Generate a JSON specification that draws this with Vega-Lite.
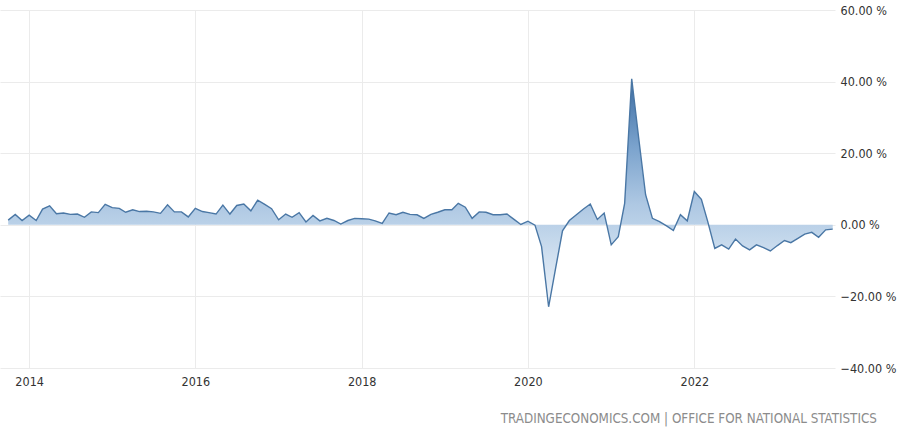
{
  "$schema": "https://vega.github.io/schema/vega-lite/v6.json",
  "width": 835,
  "height": 358,
  "autosize": {"type": "none"},
  "padding": {"left": 0, "top": 10, "right": 65, "bottom": 60},
  "background": "white",
  "config": {"view": {"stroke": null}, "font": "DejaVu Sans Condensed"},
  "title": {
    "text": "TRADINGECONOMICS.COM | OFFICE FOR NATIONAL STATISTICS",
    "orient": "bottom",
    "anchor": "end",
    "fontSize": 13.3,
    "fontWeight": "normal",
    "color": "#8c8c8c",
    "offset": 24,
    "dx": -19,
    "font": "DejaVu Sans Condensed"
  },
  "data": {
    "values": [
      {"date": "2013-10-01", "value": 1.3},
      {"date": "2013-11-01", "value": 2.9},
      {"date": "2013-12-01", "value": 1.2},
      {"date": "2014-01-01", "value": 2.7},
      {"date": "2014-02-01", "value": 1.2},
      {"date": "2014-03-01", "value": 4.4},
      {"date": "2014-04-01", "value": 5.3},
      {"date": "2014-05-01", "value": 3.1},
      {"date": "2014-06-01", "value": 3.3},
      {"date": "2014-07-01", "value": 2.9},
      {"date": "2014-08-01", "value": 3.0},
      {"date": "2014-09-01", "value": 2.1},
      {"date": "2014-10-01", "value": 3.6},
      {"date": "2014-11-01", "value": 3.4},
      {"date": "2014-12-01", "value": 5.7},
      {"date": "2015-01-01", "value": 4.8},
      {"date": "2015-02-01", "value": 4.6},
      {"date": "2015-03-01", "value": 3.5},
      {"date": "2015-04-01", "value": 4.2},
      {"date": "2015-05-01", "value": 3.7},
      {"date": "2015-06-01", "value": 3.8},
      {"date": "2015-07-01", "value": 3.6},
      {"date": "2015-08-01", "value": 3.2},
      {"date": "2015-09-01", "value": 5.6},
      {"date": "2015-10-01", "value": 3.6},
      {"date": "2015-11-01", "value": 3.6},
      {"date": "2015-12-01", "value": 2.2},
      {"date": "2016-01-01", "value": 4.6},
      {"date": "2016-02-01", "value": 3.7},
      {"date": "2016-03-01", "value": 3.4},
      {"date": "2016-04-01", "value": 3.0},
      {"date": "2016-05-01", "value": 5.5},
      {"date": "2016-06-01", "value": 3.0},
      {"date": "2016-07-01", "value": 5.4},
      {"date": "2016-08-01", "value": 5.8},
      {"date": "2016-09-01", "value": 3.9},
      {"date": "2016-10-01", "value": 6.9},
      {"date": "2016-11-01", "value": 5.7},
      {"date": "2016-12-01", "value": 4.5},
      {"date": "2017-01-01", "value": 1.4},
      {"date": "2017-02-01", "value": 3.0},
      {"date": "2017-03-01", "value": 2.1},
      {"date": "2017-04-01", "value": 3.4},
      {"date": "2017-05-01", "value": 0.8},
      {"date": "2017-06-01", "value": 2.6},
      {"date": "2017-07-01", "value": 1.1},
      {"date": "2017-08-01", "value": 1.8},
      {"date": "2017-09-01", "value": 1.2},
      {"date": "2017-10-01", "value": 0.2},
      {"date": "2017-11-01", "value": 1.2},
      {"date": "2017-12-01", "value": 1.8},
      {"date": "2018-01-01", "value": 1.7},
      {"date": "2018-02-01", "value": 1.6},
      {"date": "2018-03-01", "value": 1.1},
      {"date": "2018-04-01", "value": 0.4},
      {"date": "2018-05-01", "value": 3.3},
      {"date": "2018-06-01", "value": 2.8},
      {"date": "2018-07-01", "value": 3.5},
      {"date": "2018-08-01", "value": 2.9},
      {"date": "2018-09-01", "value": 2.8},
      {"date": "2018-10-01", "value": 1.8},
      {"date": "2018-11-01", "value": 2.9},
      {"date": "2018-12-01", "value": 3.5},
      {"date": "2019-01-01", "value": 4.2},
      {"date": "2019-02-01", "value": 4.2},
      {"date": "2019-03-01", "value": 6.0},
      {"date": "2019-04-01", "value": 4.9},
      {"date": "2019-05-01", "value": 1.8},
      {"date": "2019-06-01", "value": 3.6},
      {"date": "2019-07-01", "value": 3.5},
      {"date": "2019-08-01", "value": 2.8},
      {"date": "2019-09-01", "value": 2.8},
      {"date": "2019-10-01", "value": 3.0},
      {"date": "2019-11-01", "value": 1.5},
      {"date": "2019-12-01", "value": 0.1},
      {"date": "2020-01-01", "value": 1.0},
      {"date": "2020-02-01", "value": -0.1},
      {"date": "2020-03-01", "value": -6.1},
      {"date": "2020-04-01", "value": -22.9},
      {"date": "2020-05-01", "value": -12.4},
      {"date": "2020-06-01", "value": -1.7},
      {"date": "2020-07-01", "value": 1.2},
      {"date": "2020-08-01", "value": 2.8},
      {"date": "2020-09-01", "value": 4.4},
      {"date": "2020-10-01", "value": 5.8},
      {"date": "2020-11-01", "value": 1.5},
      {"date": "2020-12-01", "value": 3.3},
      {"date": "2021-01-01", "value": -5.6},
      {"date": "2021-02-01", "value": -3.3},
      {"date": "2021-03-01", "value": 6.0},
      {"date": "2021-04-01", "value": 40.8},
      {"date": "2021-05-01", "value": 24.6},
      {"date": "2021-06-01", "value": 8.4},
      {"date": "2021-07-01", "value": 1.8},
      {"date": "2021-08-01", "value": 0.9},
      {"date": "2021-09-01", "value": -0.3},
      {"date": "2021-10-01", "value": -1.6},
      {"date": "2021-11-01", "value": 2.8},
      {"date": "2021-12-01", "value": 1.1},
      {"date": "2022-01-01", "value": 9.3},
      {"date": "2022-02-01", "value": 7.1},
      {"date": "2022-03-01", "value": 0.9},
      {"date": "2022-04-01", "value": -6.6},
      {"date": "2022-05-01", "value": -5.6},
      {"date": "2022-06-01", "value": -6.8},
      {"date": "2022-07-01", "value": -4.0},
      {"date": "2022-08-01", "value": -5.9},
      {"date": "2022-09-01", "value": -7.0},
      {"date": "2022-10-01", "value": -5.6},
      {"date": "2022-11-01", "value": -6.4},
      {"date": "2022-12-01", "value": -7.3},
      {"date": "2023-01-01", "value": -5.8},
      {"date": "2023-02-01", "value": -4.4},
      {"date": "2023-03-01", "value": -5.0},
      {"date": "2023-04-01", "value": -3.8},
      {"date": "2023-05-01", "value": -2.6},
      {"date": "2023-06-01", "value": -2.1},
      {"date": "2023-07-01", "value": -3.5},
      {"date": "2023-08-01", "value": -1.4},
      {"date": "2023-09-01", "value": -1.2}
    ]
  },
  "mark": {
    "type": "area",
    "fill": {
      "gradient": "linear",
      "x1": 0, "y1": 0, "x2": 0, "y2": 1,
      "stops": [
        {"offset": 0, "color": "#3b6ca2"},
        {"offset": 0.3, "color": "#7ba3cd"},
        {"offset": 0.55, "color": "#aec8e3"},
        {"offset": 0.66, "color": "#bdd3e9"},
        {"offset": 1, "color": "#f2f6fb"}
      ]
    },
    "fillOpacity": 1,
    "line": {"color": "#4a77a5", "strokeWidth": 1.4}
  },
  "encoding": {
    "x": {
      "field": "date",
      "type": "temporal",
      "scale": {
        "type": "utc",
        "domain": [
          {"year": 2013, "month": 8, "date": 26, "utc": true},
          {"year": 2023, "month": 9, "date": 11, "utc": true}
        ]
      },
      "axis": {
        "title": null,
        "format": "%Y",
        "tickCount": {"interval": "year", "step": 2},
        "domain": false,
        "ticks": false,
        "grid": true,
        "gridColor": "#ebebeb",
        "labelFontSize": 12.5,
        "labelColor": "#333333",
        "labelPadding": 7,
        "labelFlush": false
      }
    },
    "y": {
      "field": "value",
      "type": "quantitative",
      "stack": null,
      "scale": {"domain": [-40, 60], "nice": false, "zero": false},
      "axis": {
        "title": null,
        "orient": "right",
        "values": [-40, -20, 0, 20, 40, 60],
        "labelExpr": "format(datum.value, '.2f') + ' %'",
        "domain": false,
        "ticks": false,
        "grid": true,
        "gridColor": "#ebebeb",
        "labelFontSize": 12.5,
        "labelColor": "#333333",
        "labelPadding": 5
      }
    }
  }
}
